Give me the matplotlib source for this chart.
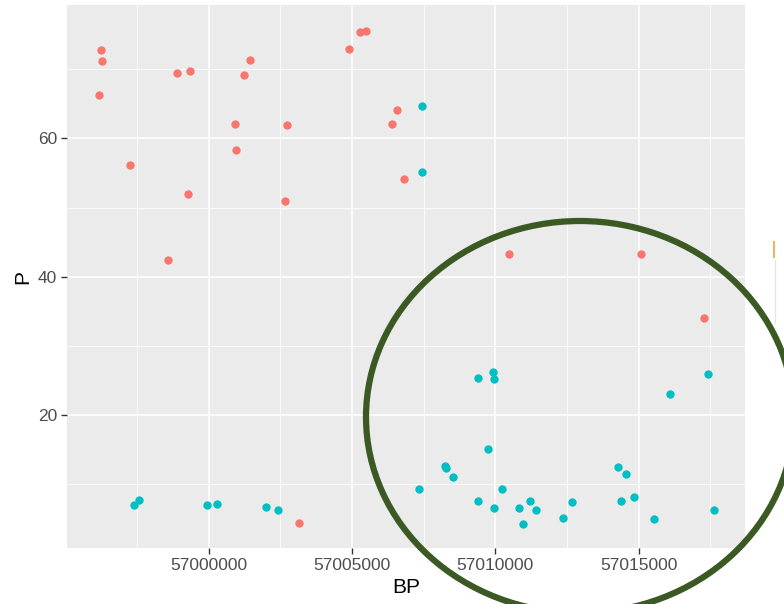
import matplotlib
matplotlib.use("Agg")
import matplotlib.pyplot as plt
from matplotlib.patches import Ellipse
from matplotlib.lines import Line2D

plt.rcParams['font.family'] = ['Liberation Sans', 'DejaVu Sans']

# group 1 (red) positions and values
bp_red = [56996243, 56996288, 56996184, 56997255, 56998580, 56998905, 56999337,
          56999288, 57000907, 57000952, 57001242, 57001430, 57002721, 57002662,
          57004905, 57005278, 57005477, 57006384, 57006580, 57006813, 57010476,
          57015091, 57017278, 57003150]
p_red = [72.8, 71.2, 66.3, 56.2, 42.4, 69.4, 69.8,
         52.0, 62.1, 58.4, 69.2, 71.4, 61.9, 51.0,
         73.0, 75.4, 75.6, 62.1, 64.1, 54.2, 43.3,
         43.3, 34.1, 4.4]

# group 2 (cyan)
bp_cyan = [57007430, 57007430, 56997384, 56997579, 56999951, 57000290, 57001999,
           57002428, 57007336, 57008243, 57008289, 57008522, 57009384, 57009907,
           57009952, 57009754, 57009384, 57009952, 57010242, 57010814, 57010954,
           57011198, 57011428, 57012370, 57012663, 57014278, 57014568, 57014383,
           57014847, 57015523, 57016092, 57017428, 57017615]
p_cyan = [64.7, 55.2, 7.0, 7.7, 7.0, 7.2, 6.7,
          6.2, 9.3, 12.7, 12.3, 11.1, 25.3, 26.2,
          25.2, 15.1, 7.6, 6.5, 9.3, 6.5, 4.2,
          7.6, 6.2, 5.1, 7.4, 12.5, 11.5, 7.6,
          8.1, 5.0, 23.0, 26.0, 6.2]

x_major = [57000000, 57005000, 57010000, 57015000]
x_minor = [56997500, 57002500, 57007500, 57012500, 57017500]
y_major = [20, 40, 60]
y_minor = [10, 30, 50, 70]

fig = plt.figure(figsize=(7.84, 6.04), dpi=100)
ax = fig.add_axes([0.0855, 0.0927, 0.8648, 0.899])
ax.set_facecolor('#EBEBEB')

ax.scatter(bp_red, p_red, s=36, color='#F8766D', linewidths=0, zorder=3)
ax.scatter(bp_cyan, p_cyan, s=36, color='#00BFC4', linewidths=0, zorder=3)

ax.set_xlim(56995057, 57018708)
ax.set_ylim(0.77, 79.3)

ax.set_xticks(x_major)
ax.set_xticklabels([str(v) for v in x_major])
ax.set_xticks(x_minor, minor=True)
ax.set_yticks(y_major)
ax.set_yticks(y_minor, minor=True)

ax.grid(True, which='major', color='white', linewidth=1.1, zorder=1)
ax.grid(True, which='minor', color='white', linewidth=0.55, zorder=1)
ax.set_axisbelow(True)
for s in ax.spines.values():
    s.set_visible(False)

ax.tick_params(which='major', length=4, width=1, color='#333333',
               labelsize=12.5, labelcolor='#4D4D4D', pad=3)
ax.tick_params(which='minor', length=0)

ax.set_xlabel('BP', fontsize=15, color='black', labelpad=4)
ax.set_ylabel('P', fontsize=15, color='black', labelpad=4)

# highlight ring around the right-hand cluster
ring = Ellipse((0.7398, 0.3096), 0.5459, 0.649, transform=fig.transFigure,
               fill=False, edgecolor='#3B5A23', linewidth=4.5, zorder=10)
fig.add_artist(ring)

# edge of the legend box
fig.add_artist(Line2D([0.9885, 0.9885], [0.465, 0.57], transform=fig.transFigure,
                      color='#E6E6E6', linewidth=1))
fig.add_artist(Line2D([0.9875, 0.9875], [0.575, 0.60], transform=fig.transFigure,
                      color='#E8B860', linewidth=1.5))

fig.savefig('out.png', dpi=100)
